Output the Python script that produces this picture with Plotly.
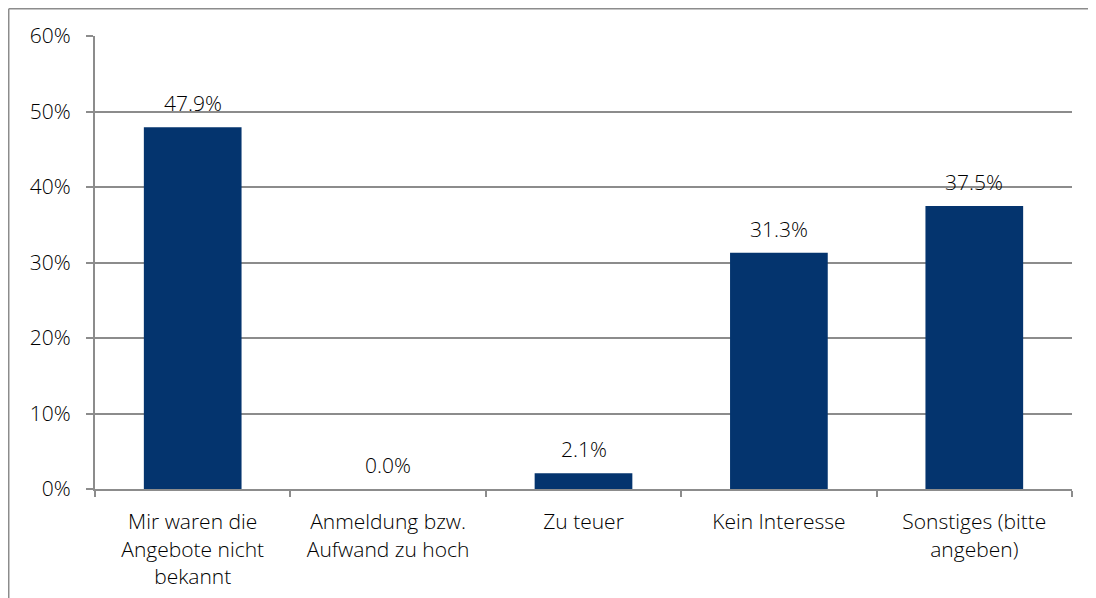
import plotly.graph_objects as go

categories = [
    "Mir waren die<br>Angebote nicht<br>bekannt",
    "Anmeldung bzw.<br>Aufwand zu hoch",
    "Zu teuer",
    "Kein Interesse",
    "Sonstiges (bitte<br>angeben)",
]
values = [47.9, 0.0, 2.1, 31.3, 37.5]
labels = ["47.9%", "0.0%", "2.1%", "31.3%", "37.5%"]
y_ticks = [0, 10, 20, 30, 40, 50, 60]
y_tick_text = ["0%", "10%", "20%", "30%", "40%", "50%", "60%"]

FONT = "Open Sans"
FS = 21
W = 300
BAR = "#04346E"
GRID = "#8C8C8C"
TXT = "#000000"

fig = go.Figure()
fig.add_trace(go.Bar(
    x=categories, y=values, marker=dict(color=BAR, line=dict(width=0)),
    hoverinfo="skip",
))

for c, v, t in zip(categories, values, labels):
    fig.add_annotation(x=c, y=v, text=t, showarrow=False, yanchor="bottom",
                       yshift=8, font=dict(family=FONT, size=FS, color=TXT, weight=W))

fig.update_layout(
    width=1096, height=598,
    margin=dict(l=87, r=32, t=28, b=117),
    paper_bgcolor="white", plot_bgcolor="white",
    bargap=0.5, showlegend=False,
    font=dict(family=FONT, size=FS, color=TXT, weight=W),
    xaxis=dict(
        type="category", showgrid=False, showline=True, linecolor=GRID, linewidth=2,
        ticks="outside", tickson="boundaries", ticklen=6, tickcolor=GRID, tickwidth=2,
        ticklabelstandoff=13,
        tickfont=dict(family=FONT, size=FS, color=TXT, weight=W),
    ),
    yaxis=dict(
        range=[0, 60], tickvals=y_ticks, ticktext=y_tick_text,
        showgrid=True, gridcolor=GRID, gridwidth=2,
        showline=True, linecolor=GRID, linewidth=2,
        ticks="outside", ticklen=7, tickcolor=GRID, tickwidth=2,
        ticklabelstandoff=11,
        zeroline=False,
        tickfont=dict(family=FONT, size=FS, color=TXT, weight=W),
    ),
    shapes=[
        dict(type="line", xref="paper", yref="paper", x0=-0.0883, x1=-0.0883,
             y0=-0.5, y1=1.0602, line=dict(color="#8C8C8C", width=1.5)),
        dict(type="line", xref="paper", yref="paper", x0=-0.0883, x1=1.2,
             y0=1.0602, y1=1.0602, line=dict(color="#8C8C8C", width=1.5)),
    ],
)

fig.write_html("out.html")
